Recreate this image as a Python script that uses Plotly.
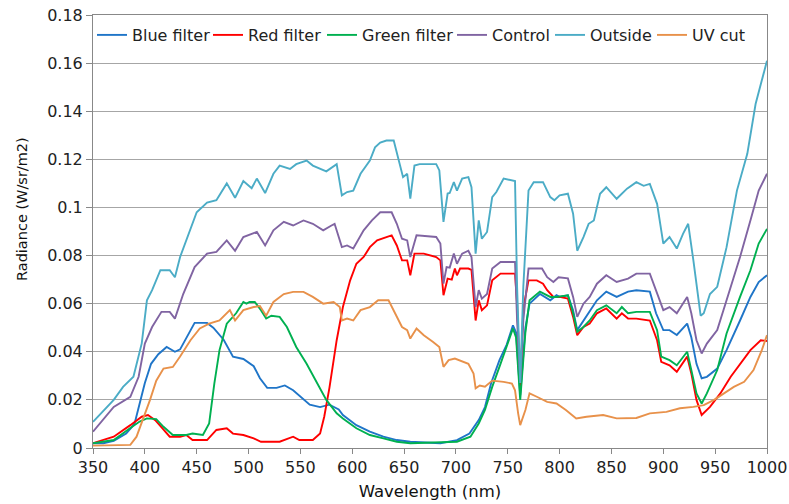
import plotly.graph_objects as go

# ---- data (wavelength in nm, radiance in W/sr/m2) ----
blue_wl = [350,360,370,382,390,395,400,406,413,421,429,434,440,448,460,466,476,485,495,505,
           511,518,527,535,543,551,559,569,578,587,591,604,617,630,643,656,685,701,713,722,
           728,734,742,749,755,758,762,767,771,781,791,797,800,808,813,817,823,829,836,845,
           855,866,874,887,893,900,906,913,923,927,932,937,942,952,961,974,984,992,1000]
blue_val = [0.002,0.002,0.003,0.006,0.010,0.0185,0.027,0.035,0.039,0.042,
            0.040,0.041,0.046,0.052,0.052,0.050,0.045,0.038,0.037,0.034,
            0.029,0.025,0.025,0.026,0.024,0.021,0.018,0.017,0.018,0.016,
            0.0137,0.0095,0.0068,0.0047,0.0033,0.0026,0.002,0.0033,0.006,0.0116,
            0.017,0.027,0.0365,0.043,0.051,0.048,0.022,0.050,0.060,0.064,
            0.0614,0.0635,0.0628,0.0635,0.0573,0.049,0.053,0.0573,0.0614,0.065,
            0.0628,0.065,0.0656,0.065,0.056,0.049,0.049,0.047,0.0517,0.046,
            0.035,0.029,0.0296,0.033,0.0407,0.053,0.0628,0.069,0.0718]

red_wl = [350,370,386,397,403,410,417,424,434,440,446,460,469,479,485,495,505,512,530,543,
          549,562,569,573,578,582,585,591,598,604,611,617,624,633,638,643,648,653,656,660,
          669,681,685,688,692,696,699,701,704,712,715,719,722,725,730,735,743,757,759,762,
          765,770,778,784,788,794,800,808,813,817,823,829,836,845,855,860,866,874,887,894,
          898,906,913,923,927,932,937,945,955,965,974,984,994,1000]
red_val = [0.002,0.0047,0.0095,0.013,0.0137,0.0116,0.0082,0.0047,0.0047,0.0054,
           0.0033,0.0033,0.0075,0.0082,0.006,0.0054,0.004,0.0026,0.0026,0.0047,
           0.0033,0.0033,0.006,0.013,0.025,0.0365,0.0448,0.0586,0.0697,0.0766,
           0.0794,0.0835,0.0863,0.0877,0.0884,0.0842,0.078,0.078,0.0718,0.0808,
           0.0808,0.0794,0.078,0.0635,0.0704,0.070,0.0746,0.0718,0.0746,0.0746,
           0.074,0.053,0.0614,0.0573,0.0593,0.0697,0.0725,0.0725,0.060,0.0254,
           0.058,0.0697,0.0697,0.0683,0.0656,0.0628,0.0628,0.0621,0.0545,0.0469,
           0.0503,0.0517,0.056,0.058,0.0538,0.056,0.0538,0.0538,0.053,0.0448,
           0.0358,0.0344,0.0317,0.038,0.031,0.020,0.0137,0.0171,0.0227,0.0296,
           0.035,0.0407,0.0448,0.0445]

green_wl = [350,370,386,395,402,411,418,427,440,446,456,462,467,472,479,488,495,498,501,506,
            512,517,522,530,537,546,556,566,575,585,591,604,617,630,643,656,701,714,722,728,
            735,743,749,755,758,762,767,771,781,791,797,808,813,817,823,829,836,845,855,860,
            866,874,887,894,898,906,913,923,927,932,937,942,952,961,974,984,992,1000]
green_val = [0.002,0.0033,0.0083,0.011,0.0123,0.012,0.0088,0.0054,0.0054,0.006,
             0.0054,0.0102,0.0268,0.0407,0.0517,0.056,0.0607,0.060,0.0607,0.0607,
             0.0573,0.0538,0.055,0.0545,0.0503,0.042,0.035,0.0268,0.020,0.0144,
             0.0123,0.0082,0.0054,0.004,0.0026,0.002,0.0026,0.0047,0.0102,0.0158,
             0.0254,0.035,0.042,0.0497,0.046,0.020,0.048,0.0614,0.065,0.0628,
             0.0628,0.0635,0.056,0.0483,0.0503,0.053,0.0573,0.0593,0.056,0.0586,
             0.056,0.0566,0.0566,0.049,0.038,0.0365,0.0344,0.040,0.0324,0.0227,
             0.0185,0.0227,0.0324,0.0476,0.0628,0.0739,0.085,0.0911]

control_wl = [350,370,386,394,400,407,416,424,429,437,448,460,469,479,487,495,508,516,524,534,
              543,553,562,572,580,583,587,590,595,601,611,619,627,638,643,648,653,656,662,681,
              685,688,691,694,698,701,706,712,715,719,722,725,730,735,743,757,759,762,765,770,
              783,788,794,799,808,813,817,823,829,836,845,855,866,874,887,894,900,906,913,923,
              927,932,937,942,952,961,974,984,992,1000]
control_val = [0.0068,0.0171,0.0213,0.0296,0.0434,0.0503,0.0566,0.0566,0.0538,0.064,
               0.0752,0.0808,0.0815,0.0863,0.082,0.0877,0.0898,0.0842,0.0905,0.094,
               0.0925,0.0946,0.0932,0.0905,0.0925,0.0932,0.0877,0.0835,0.0842,0.0829,
               0.0905,0.0946,0.098,0.098,0.0932,0.087,0.0863,0.0794,0.0884,0.0877,
               0.085,0.0683,0.0752,0.075,0.0808,0.0766,0.0808,0.082,0.0794,0.0586,
               0.0656,0.0621,0.064,0.0746,0.0773,0.0773,0.053,0.028,0.053,0.0746,
               0.0746,0.071,0.069,0.071,0.0705,0.0628,0.0545,0.060,0.0628,0.0683,
               0.0718,0.069,0.0704,0.0725,0.0725,0.064,0.0573,0.0586,0.056,0.0628,
               0.056,0.0448,0.0393,0.0434,0.049,0.0614,0.0794,0.0946,0.107,0.114]

outside_wl = [350,370,379,389,397,402,407,415,424,429,434,444,450,460,469,479,487,495,503,508,
              516,524,530,540,546,556,562,575,585,590,595,601,608,617,622,627,633,640,644,649,
              653,656,660,665,681,684,688,692,694,698,701,706,712,715,719,722,725,730,735,739,
              746,757,759,762,765,770,775,784,791,795,800,808,813,817,823,828,833,839,845,855,
              865,874,881,887,894,900,906,913,919,924,929,936,939,945,952,961,971,981,989,1000]
outside_val = [0.0109,0.020,0.0254,0.0296,0.0435,0.0614,0.0656,0.0739,0.0739,0.071,
               0.0794,0.0905,0.098,0.102,0.103,0.110,0.104,0.111,0.108,0.112,
               0.106,0.114,0.1174,0.116,0.118,0.1195,0.1174,0.115,0.118,0.105,
               0.1064,0.107,0.114,0.1195,0.125,0.127,0.1278,0.1278,0.121,0.1126,
               0.114,0.1037,0.1174,0.118,0.118,0.1154,0.094,0.1058,0.106,0.1105,
               0.107,0.112,0.1126,0.1084,0.0808,0.0946,0.087,0.0898,0.1043,0.1064,
               0.112,0.111,0.067,0.027,0.067,0.107,0.1105,0.1105,0.1043,0.103,
               0.105,0.1057,0.0974,0.082,0.0877,0.0932,0.0946,0.1057,0.1084,0.1036,
               0.1078,0.1105,0.109,0.1098,0.1015,0.085,0.0877,0.0829,0.089,0.0932,
               0.078,0.055,0.056,0.064,0.067,0.0835,0.107,0.1223,0.143,0.161]

uv_wl = [350,386,392,398,405,411,418,427,434,444,453,462,472,482,487,495,505,511,517,524,
         534,543,553,562,572,582,588,590,595,601,608,617,625,635,641,648,653,656,662,669,
         678,684,688,693,699,712,717,719,723,728,735,746,754,757,760,762,767,771,778,788,
         797,806,816,826,842,855,874,887,903,916,929,939,949,958,968,978,987,995,1000]
uv_val = [0.001,0.0013,0.0047,0.0116,0.020,0.028,0.033,0.0337,0.038,0.0448,
          0.0497,0.0517,0.053,0.0573,0.053,0.0573,0.0586,0.059,0.055,0.0607,
          0.064,0.0649,0.0649,0.0628,0.060,0.0607,0.0586,0.053,0.0538,0.053,
          0.0573,0.0586,0.0614,0.0614,0.056,0.0503,0.049,0.0455,0.0497,0.0469,
          0.0441,0.042,0.0337,0.0365,0.0372,0.035,0.031,0.0248,0.026,0.0255,
          0.028,0.0275,0.0268,0.024,0.0144,0.0095,0.0158,0.0227,0.0213,0.0192,
          0.0185,0.0158,0.0123,0.013,0.0137,0.0123,0.0125,0.0144,0.015,0.0165,
          0.0171,0.0178,0.020,0.0227,0.0254,0.0275,0.0324,0.0407,0.0469]

series_names = ["Blue filter", "Red filter", "Green filter", "Control", "Outside", "UV cut"]
series_x = [blue_wl, red_wl, green_wl, control_wl, outside_wl, uv_wl]
series_y = [blue_val, red_val, green_val, control_val, outside_val, uv_val]
series_colors = ["#1F75C8", "#FF0000", "#00B050", "#8064A2", "#4BACC6", "#E8914A"]

x_ticks = list(range(350, 1001, 50))

# ---- layout geometry ----
W, H = 789, 504
ML, MR, MT, MB = 93, 22, 15, 56
PW = W - ML - MR
PH = H - MT - MB
legend_text_px = [132, 248, 362, 492, 590, 692]   # where each legend label begins
legend_y_px = 35

font_family = "DejaVu Sans"
fig = go.Figure()
legend_keys = ["legend"] + ["legend%d" % i for i in range(2, 7)]
for name, xs, ys, col, lk in zip(series_names, series_x, series_y, series_colors, legend_keys):
    fig.add_trace(go.Scatter(x=xs, y=ys, mode="lines", name=name, legend=lk,
                             line=dict(color=col, width=1.9)))

legend_layout = {}
for lk, tx in zip(legend_keys, legend_text_px):
    legend_layout[lk] = dict(
        orientation="h",
        x=(tx - 40 - ML) / PW, xanchor="left",
        y=(H - MB - legend_y_px) / PH, yanchor="middle",
        bgcolor="rgba(255,255,255,0)", borderwidth=0,
        font=dict(family=font_family, size=16, color="#222222"),
        itemwidth=30,
    )

fig.update_layout(
    width=W, height=H,
    margin=dict(l=ML, r=MR, t=MT, b=MB, autoexpand=False),
    paper_bgcolor="white", plot_bgcolor="white",
    font=dict(family=font_family, size=15, color="#222222"),
    showlegend=True,
    xaxis=dict(range=[350, 1000], tickvals=x_ticks, ticks="outside", ticklen=5,
               tickcolor="#888888", showgrid=False, showline=True, linecolor="#888888",
               linewidth=1, mirror=True, zeroline=False, automargin=False,
               tickfont=dict(size=16, color="#222222"),
               title=dict(text="Wavelength (nm)", font=dict(size=16.5, color="#111111"), standoff=9)),
    yaxis=dict(range=[0, 0.18], dtick=0.02, ticks="outside", ticklen=6,
               tickcolor="#888888", showgrid=True, gridcolor="#A6A6A6", gridwidth=1,
               showline=True, linecolor="#888888", linewidth=1, mirror=True, zeroline=False,
               automargin=False, tickfont=dict(size=16, color="#222222")),
    annotations=[dict(text="Radiance (W/sr/m2)", textangle=-90, showarrow=False,
                      xref="paper", yref="paper",
                      x=(22 - ML) / PW, y=(H - MB - 209) / PH,
                      xanchor="center", yanchor="middle",
                      font=dict(family=font_family, size=14.5, color="#111111"))],
    **legend_layout,
)

fig.write_html("out.html", config={"displayModeBar": False},
               post_script="document.body.style.margin='0px';")
